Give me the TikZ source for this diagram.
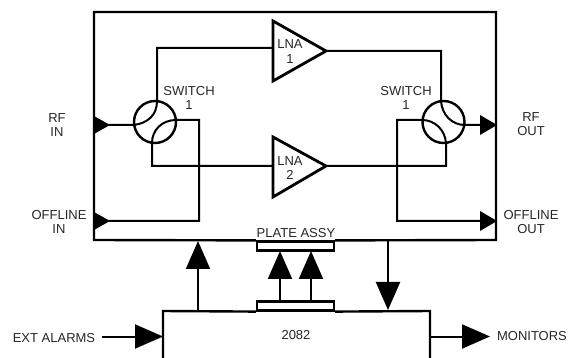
\documentclass[tikz,border=0pt]{standalone}
\usepackage{fontspec}
\setmainfont{Liberation Sans}
\usetikzlibrary{arrows.meta,calc}
\tikzset{
  wire/.style={line width=2pt,draw=black,line join=miter},
  thick wire/.style={line width=2.4pt,draw=black,line join=miter},
  bigarrow/.style={wire,-{Triangle[length=28pt,width=24pt]}},
  label/.style={font=\fontsize{13}{14.5}\selectfont,text=black!85,align=center,inner sep=0pt},
  switchc/.style={circle,draw=black,line width=2.4pt,minimum size=42pt,inner sep=0pt},
  plate/.style={rectangle,draw=black,line width=2.2pt,minimum width=77pt,minimum height=9pt,inner sep=0pt},
  amp/.style={line width=2.8pt,draw=black,line join=miter}
}
\begin{document}
\begin{tikzpicture}[x=1pt,y=-1pt]
\useasboundingbox (0,0) rectangle (568,358);
% plates
\node[plate] (plateA) at (295.5,246) {};
\node[plate] (plateB) at (295.5,306) {};
% main box
\coordinate (bl) at (94,240);
\coordinate (br) at (496,240);
\draw[thick wire] (plateA.north west) -- (bl) -- (94,12) -- (496,12) -- (br) -- (plateA.north east);
% lower box
\coordinate (ltop) at (163,311);
\coordinate (rtop) at (430,311);
\draw[thick wire] (163,360) -- (ltop) -- (plateB.south west);
\draw[thick wire] (plateB.south east) -- (rtop) -- (430,360);
% switches
\node[switchc] (swL) at (155,122) {};
\node[switchc] (swR) at (443.5,122) {};
% LNAs
\coordinate (a1i) at (273,48);
\coordinate (a1o) at (326,51);
\coordinate (a2i) at (273,166);
\coordinate (a2o) at (326,166);
\draw[amp] (273,21) -- (a1o) -- (273,81) -- cycle;
\draw[amp] (273,137) -- (a2o) -- (273,197) -- cycle;
\node[label] (lna1) at (290,51.5) {LNA\\1};
\node[label] (lna2) at (290,168) {LNA\\2};
% left switch wiring
\coordinate (inTip) at (94,125);
\coordinate (offTip) at (94,221);
\fill (94,116) -- (110,125) -- (94,134) -- cycle;
\fill (94,212) -- (110,221) -- (94,230) -- cycle;
\draw[wire] (inTip) -- (134,125) .. controls (148,123) and (157,115) .. (157,101) -- (157,48) -- (a1i);
\draw[wire] (a2i) -- (152,166) -- (152,143) .. controls (152,130) and (162,120) .. (176,120) -- (199,120) -- (199,221) -- (offTip);
% right switch wiring
\coordinate (outTip) at (497,125);
\coordinate (offOut) at (497,221);
\draw[wire] (a1o) -- (441,51) -- (441,101) .. controls (442,115) and (452,125) .. (465,125) -- (480,125);
\draw[wire] (a2o) -- (446,166) -- (446,143) .. controls (445,130) and (435,120) .. (422,120) -- (397,120) -- (397,221) -- (480,221);
\fill (480,115) -- (497,125) -- (480,135) -- cycle;
\fill (480,211) -- (497,221) -- (480,231) -- cycle;
% vertical arrows
\draw[bigarrow] (198,311) -- (198,241);
\draw[bigarrow] (280,301) -- (280,251);
\draw[bigarrow] (311,301) -- (311,251);
\draw[bigarrow] (388,240) -- (388,310);
% horizontal arrows
\draw[bigarrow] (102,336.5) -- (163,336.5);
\draw[bigarrow] (430,336.5) -- (490,336.5);
% labels
\node[label] (rfin) at (57,125) {RF\\IN};
\node[label] (offin) at (59,222) {OFFLINE\\IN};
\node[label] (rfout) at (531,124) {RF\\OUT};
\node[label] (offout) at (531,222) {OFFLINE\\OUT};
\node[label] (swlabL) at (189,98) {SWITCH\\1};
\node[label] (swlabR) at (406,98) {SWITCH\\1};
\node[label] (platelab) at (296,233) {PLATE ASSY};
\node[label] (unit) at (296,335) {2082};
\node[label] (ext) at (54,338) {EXT ALARMS};
\node[label] (mon) at (532,336) {MONITORS};
\end{tikzpicture}
\end{document}
